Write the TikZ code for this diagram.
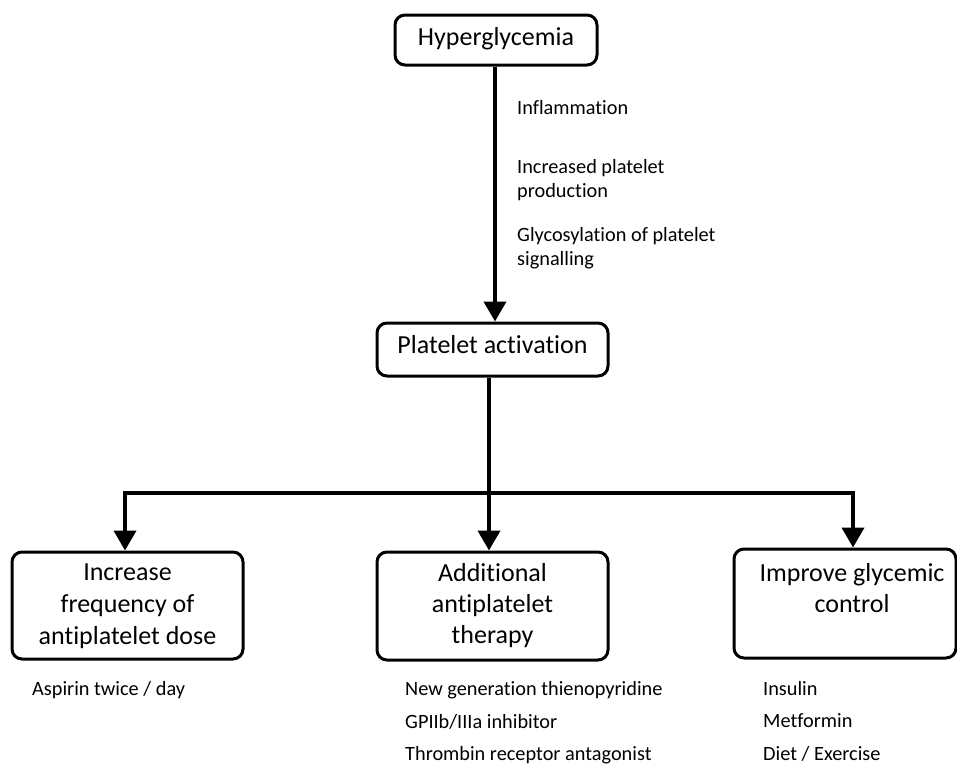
\documentclass[tikz,border=0pt]{standalone}
\usepackage{fontspec}
\setmainfont{Carlito}[Ligatures={NoCommon}]
\usetikzlibrary{arrows.meta}
\begin{document}
\begin{tikzpicture}[x=1pt,y=-1pt,
  box/.style={draw,line width=3pt,rounded corners=10pt,inner sep=0pt},
  big/.style={font=\fontsize{26}{32}\selectfont,inner sep=0pt,anchor=base},
  small/.style={font=\fontsize{20.3}{24}\selectfont,inner sep=0pt,anchor=base west},
  conn/.style={line width=4pt,line join=miter,-{Triangle[width=22pt,length=20pt]}},
  plain/.style={line width=4pt}]
\useasboundingbox (0,0) rectangle (957,766);
% boxes
\node[box,minimum width=202pt,minimum height=50pt] (hyp) at (496,40) {};
\node[box,minimum width=231pt,minimum height=53pt] (plat) at (492.5,349.5) {};
\node[box,minimum width=231pt,minimum height=107pt] (lbox) at (127.5,605.5) {};
\node[box,minimum width=231pt,minimum height=108pt] (mbox) at (492.5,606) {};
\node[box,minimum width=222pt,minimum height=109pt] (rbox) at (845,603.5) {};
% box texts
\node[big] (thyp) at (496,45) {Hyperglycemia};
\node[big] (tplat) at (492.5,353) {Platelet activation};
\node[big] (tl1) at (127.5,580) {Increase};
\node[big] (tl2) at (127.5,612) {frequency of};
\node[big] (tl3) at (127.5,644) {antiplatelet dose};
\node[big] (tm1) at (492.5,581) {Additional};
\node[big] (tm2) at (492.5,612) {antiplatelet};
\node[big] (tm3) at (492.5,643) {therapy};
\node[big] (tr1) at (852,581) {Improve glycemic};
\node[big] (tr2) at (852,612) {control};
% connectors
\coordinate (jc) at (489,493);
\coordinate (jl) at (125,493);
\coordinate (jr) at (853,493);
\draw[conn] (hyp.south -| 495,0) -- (plat.north -| 495,0);
\draw[plain] (plat.south -| jc) -- (jc);
\draw[plain] (jl) -- (jr);
\draw[conn] (jc) -- (jc |- mbox.north);
\draw[conn] ([xshift=2pt]jl) -- (jl) -- (jl |- lbox.north);
\draw[conn] ([xshift=-2pt]jr) -- (jr) -- (jr |- rbox.north);
% side labels
\node[small] (s1) at (517,114) {Inflammation};
\node[small] (s2) at (517,173) {Increased platelet};
\node[small] (s3) at (517,197) {production};
\node[small] (s4) at (517,241) {Glycosylation of platelet};
\node[small] (s5) at (517,265) {signalling};
% lists
\node[small] (a1) at (32,695) {Aspirin twice / day};
\node[small] (b1) at (405,695) {New generation thienopyridine};
\node[small] (b2) at (405,728) {GPIIb/IIIa inhibitor};
\node[small] (b3) at (405,760) {Thrombin receptor antagonist};
\node[small] (c1) at (763,695) {Insulin};
\node[small] (c2) at (763,727) {Metformin};
\node[small] (c3) at (763,760) {Diet / Exercise};
\end{tikzpicture}
\end{document}
